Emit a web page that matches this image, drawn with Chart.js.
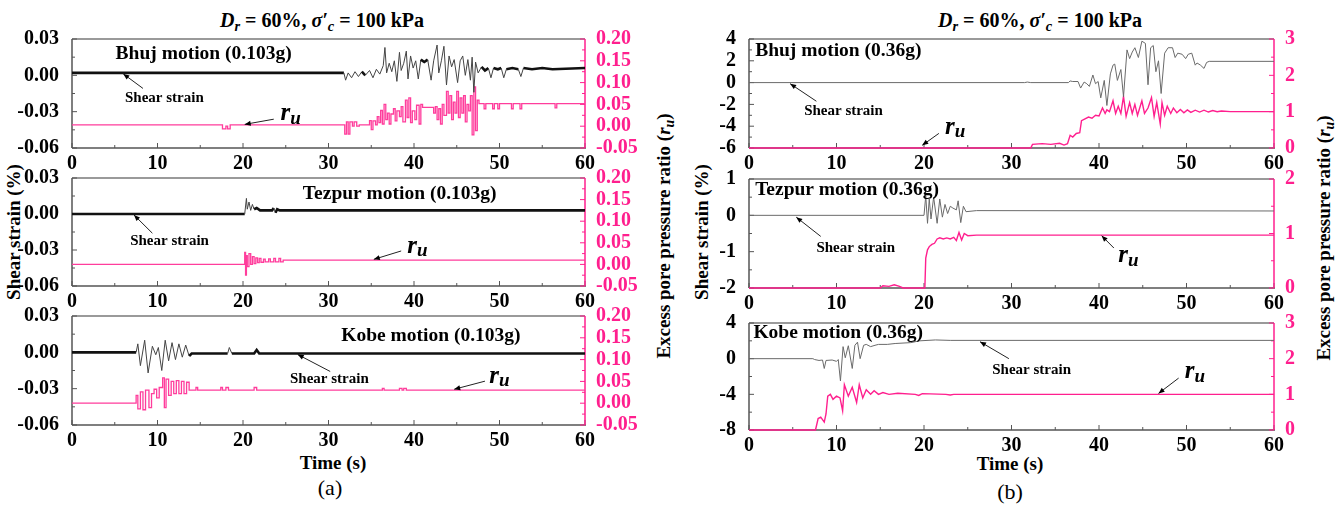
<!DOCTYPE html>
<html>
<head>
<meta charset="utf-8">
<script src="https://cdn.jsdelivr.net/npm/chart.js@4.4.1/dist/chart.umd.min.js"></script>
<style>
  body { margin: 0; background: #fff; }
  #wrap { position: relative; width: 1340px; height: 512px; overflow: hidden;
          font-family: "Liberation Serif", "Times New Roman", serif; }
  #wrap canvas { position: absolute; }
  .t { position: absolute; white-space: nowrap; font-weight: bold; color: #000;
       transform: translate(-50%, -50%); line-height: 1; }
  .rot { transform: translate(-50%, -50%) rotate(-90deg); }
  .t sub { font-size: 0.72em; vertical-align: -0.3em; line-height: 0; }
  .cap { font-weight: normal; font-size: 22px; }
</style>
</head>
<body>
<div id="wrap">
  <div class="t" style="left:322px; top:20px; font-size:20px;"><i>D<sub>r</sub></i> = 60%, <i>σ′<sub>c</sub></i> = 100 kPa</div>
  <div class="t" style="left:1040px; top:20px; font-size:20px;"><i>D<sub>r</sub></i> = 60%, <i>σ′<sub>c</sub></i> = 100 kPa</div>

  <div class="t rot" style="left:13px; top:232px; font-size:19px;">Shear strain (%)</div>
  <div class="t rot" style="left:701px; top:232px; font-size:19px;">Shear strain (%)</div>
  <div class="t rot" style="left:663px; top:236px; font-size:19px;">Excess pore pressure ratio (<i>r<sub>u</sub></i>)</div>
  <div class="t rot" style="left:1323px; top:238px; font-size:19px;">Excess pore pressure ratio (<i>r<sub>u</sub></i>)</div>

  <div class="t" style="left:333px; top:462px; font-size:19px;">Time (s)</div>
  <div class="t" style="left:1010px; top:463px; font-size:19px;">Time (s)</div>
  <div class="t cap" style="left:330px; top:488px;">(a)</div>
  <div class="t cap" style="left:1010px; top:492px;">(b)</div>
</div>
<script>
// ---- tick labels ----
var timeTicks = [0, 10, 20, 30, 40, 50, 60];
var strainTicksA = [-0.06, -0.03, 0, 0.03];
var ruTicksA = [-0.05, 0, 0.05, 0.10, 0.15, 0.20];
var strainTicksB1 = [-6, -4, -2, 0, 2, 4];
var ruTicksB1 = [0, 1, 2, 3];
var strainTicksB2 = [-2, -1, 0, 1];
var ruTicksB2 = [0, 1, 2];
var strainTicksB3 = [-8, -4, 0, 4];
var ruTicksB3 = [0, 1, 2, 3];

// ---- (a) 0.103g : [time (s), value] ----
var bhujA_strain = [[0,0.002],[31.8,0.002],[32.0,-0.004],[32.3,0.002],[32.7,-0.002],[33.1,0.003],[33.5,-0.001],[33.9,0.003],[34.3,0.000],[34.8,0.004],[35.2,-0.002],[35.6,0.005],[36.0,0.001],[36.4,0.008],[36.6,0.023],[36.8,0.002],[37.1,0.010],[37.4,0.003],[37.7,0.012],[38.0,-0.005],[38.3,0.019],[38.5,0.004],[38.8,0.010],[39.1,0.020],[39.3,-0.003],[39.6,0.016],[39.9,0.006],[40.2,0.012],[40.5,-0.003],[40.8,0.013],[41.2,0.011],[41.6,0.013],[42.0,-0.004],[42.3,0.012],[42.7,0.025],[42.9,0.002],[43.2,0.012],[43.5,0.024],[43.8,-0.008],[44.1,0.016],[44.4,0.007],[44.7,0.013],[45.1,-0.006],[45.4,0.012],[45.7,0.016],[46.0,0.000],[46.3,0.013],[46.6,-0.004],[46.8,0.015],[47.0,-0.014],[47.2,0.011],[47.5,0.002],[47.9,0.007],[48.3,0.004],[48.7,0.006],[49.0,-0.002],[49.3,0.006],[49.8,0.005],[50.2,0.006],[50.5,-0.002],[50.8,0.005],[51.5,0.006],[52.2,0.005],[52.5,-0.001],[52.8,0.006],[53.8,0.005],[55.0,0.006],[56.2,0.005],[60,0.006]];
var bhujA_ru = [[0,0.003],[17.6,-0.006],[18.0,0.000],[18.2,-0.006],[18.5,0.003],[31.9,-0.018],[32.1,0.010],[32.3,-0.018],[32.5,0.010],[32.8,0.000],[33.0,0.010],[33.3,0.000],[33.6,0.003],[34.8,0.013],[35.0,-0.008],[35.2,0.012],[35.5,0.003],[35.7,0.022],[35.9,0.008],[36.1,0.036],[36.3,0.005],[36.5,0.050],[36.7,0.015],[36.9,0.030],[37.1,0.005],[37.3,0.028],[37.6,0.040],[37.8,0.012],[38.0,0.035],[38.3,0.022],[38.5,0.045],[38.7,0.010],[39.0,0.060],[39.2,0.020],[39.4,0.065],[39.6,0.008],[39.8,0.035],[40.1,0.015],[40.3,0.048],[40.6,0.005],[40.8,0.050],[41.0,0.043],[42.3,0.030],[42.5,0.045],[42.7,0.015],[42.9,0.040],[43.1,0.005],[43.3,0.050],[43.5,0.025],[43.8,0.080],[44.0,0.030],[44.2,0.070],[44.4,0.015],[44.6,0.055],[44.8,0.030],[45.0,0.080],[45.2,0.020],[45.4,0.065],[45.6,0.030],[45.8,0.070],[46.0,0.010],[46.2,0.050],[46.4,0.035],[46.6,0.070],[46.8,-0.020],[47.0,0.090],[47.2,-0.010],[47.4,0.060],[47.6,0.052],[48.2,0.040],[48.4,0.052],[49.2,0.040],[49.4,0.052],[49.8,0.040],[50.0,0.052],[51.4,0.040],[51.6,0.052],[52.4,0.040],[52.6,0.052],[56.5,0.042],[56.7,0.052],[60,0.052]];

var tezpurA_strain = [[0,0.000],[20.2,0.000],[20.4,0.013],[20.5,0.004],[20.7,0.010],[20.9,0.003],[21.1,0.008],[21.3,0.004],[21.6,0.005],[22.0,0.003],[23.4,0.003],[23.6,0.005],[23.8,0.001],[24.0,0.004],[24.3,0.003],[60,0.003]];
var tezpurA_ru = [[0,0.000],[20.2,0.028],[20.3,-0.025],[20.4,0.020],[20.5,-0.005],[20.7,0.025],[20.9,0.000],[21.1,0.018],[21.3,0.002],[21.5,0.015],[21.7,0.004],[21.9,0.014],[22.1,0.005],[22.4,0.012],[22.6,0.006],[23.0,0.013],[23.2,0.006],[23.6,0.014],[23.8,0.006],[24.2,0.014],[24.4,0.006],[24.7,0.010],[60,0.010]];

var kobeA_strain = [[0,0.000],[7.5,0.000],[7.7,0.007],[8.0,-0.011],[8.5,0.010],[8.9,-0.017],[9.4,0.005],[9.8,-0.002],[10.1,0.004],[10.5,-0.015],[10.9,0.010],[11.3,-0.007],[11.7,0.008],[12.1,-0.006],[12.5,0.007],[12.9,-0.004],[13.3,0.006],[13.7,-0.003],[14.0,-0.001],[18.2,-0.001],[18.4,0.004],[18.7,-0.001],[21.3,-0.001],[21.6,0.002],[21.9,-0.001],[60,-0.001]];
var kobeA_ru = [[0,0.000],[7.5,0.018],[7.7,-0.013],[8.0,0.026],[8.3,-0.015],[8.6,0.030],[9.0,-0.010],[9.3,0.022],[9.6,0.032],[9.9,0.012],[10.2,0.036],[10.6,0.058],[10.8,-0.010],[11.0,0.055],[11.3,0.018],[11.6,0.050],[11.9,0.022],[12.2,0.052],[12.5,0.022],[12.8,0.050],[13.1,0.022],[13.4,0.048],[13.7,0.030],[14.5,0.036],[14.7,0.030],[17.4,0.036],[17.6,0.030],[18.0,0.036],[18.3,0.030],[21.3,0.036],[21.6,0.030],[36.3,0.034],[36.5,0.030],[38.3,0.034],[38.6,0.030],[38.8,0.034],[39.1,0.030],[60,0.030]];

// ---- (b) 0.36g ----
var bhujB_strain = [[0,0],[31.5,0],[31.8,0.05],[32.2,0],[36.5,0],[36.7,0.15],[37.0,0.1],[37.6,0.1],[37.9,-0.5],[38.3,0.05],[38.6,-0.1],[38.9,-0.35],[39.3,0.7],[39.6,-0.1],[39.9,0.1],[40.2,-1.4],[40.6,0.2],[40.9,-2.1],[41.3,0.8],[41.6,1.6],[41.8,1.7],[42.1,0.2],[42.5,1.2],[42.8,-1.3],[43.2,3.0],[43.5,2.2],[43.8,2.8],[44.1,3.2],[44.5,2.3],[44.9,3.8],[45.3,3.6],[45.6,-0.2],[45.9,3.2],[46.2,3.4],[46.5,1.0],[46.8,2.0],[47.1,-1.0],[47.5,2.7],[47.9,3.2],[48.4,3.2],[48.7,2.3],[49.0,2.7],[49.5,2.6],[49.9,2.2],[50.2,2.6],[50.6,2.7],[51.0,1.6],[51.2,1.8],[51.6,1.6],[52.0,1.3],[52.3,1.85],[52.6,1.95],[60,1.95]];
var bhujB_ru = [[0,0],[32.2,0],[32.4,0.1],[33.5,0.12],[34.5,0.1],[35.5,0.13],[36.0,0.08],[36.4,0.12],[36.7,0.35],[37.0,0.3],[37.4,0.4],[37.8,0.42],[38.0,0.75],[38.4,0.8],[38.8,0.85],[39.2,0.82],[39.6,0.9],[40.0,0.88],[40.4,1.1],[40.7,0.95],[40.9,1.05],[41.2,1.0],[41.6,1.3],[41.9,0.95],[42.2,1.15],[42.5,0.95],[42.8,1.42],[43.1,0.87],[43.5,1.25],[43.8,0.95],[44.1,1.2],[44.4,0.9],[44.9,1.3],[45.2,0.95],[45.6,1.1],[46.0,1.39],[46.3,0.87],[46.6,1.25],[47.0,0.66],[47.2,1.25],[47.5,0.9],[47.8,1.15],[48.2,0.95],[48.5,1.1],[48.9,0.97],[49.3,1.06],[49.7,0.97],[50.1,1.05],[50.5,0.98],[51.0,1.04],[51.5,0.99],[52.0,1.04],[52.5,0.99],[53.0,1.03],[53.5,1.0],[54,1.02],[55,1.0],[60,1.0]];

var tezpurB_strain = [[0,0],[20.0,0],[20.2,0.54],[20.4,-0.22],[20.6,0.45],[20.8,-0.1],[21.1,0.5],[21.5,-0.22],[21.8,0.45],[22.1,-0.05],[22.4,0.3],[22.7,0.05],[23.0,0.25],[23.3,0.2],[23.7,0.15],[23.9,0.4],[24.2,-0.2],[24.5,0.25],[24.8,0.1],[26,0.13],[60,0.12]];
var tezpurB_ru = [[0,0],[15.0,0],[15.3,0.04],[16,0.03],[16.6,0.06],[17.2,0.03],[17.6,0.0],[20.1,0],[20.2,0.55],[20.4,0.7],[20.6,0.76],[20.9,0.8],[21.2,0.82],[21.5,0.9],[21.8,0.92],[22.2,0.9],[22.6,0.92],[23.0,0.9],[23.4,0.93],[23.7,0.87],[24.0,1.02],[24.3,0.88],[24.6,1.0],[25.0,0.96],[26,0.97],[60,0.97]];

var kobeB_strain = [[0,0],[7.3,0],[7.5,-0.1],[8.0,-0.2],[8.4,-0.15],[8.6,-1.1],[8.8,-0.2],[9.5,-0.15],[10.0,-0.3],[10.2,-0.1],[10.45,-2.5],[10.75,1.35],[11.0,0.1],[11.35,1.45],[11.8,-1.1],[12.1,1.5],[12.4,1.85],[12.7,0.0],[13.1,1.5],[13.4,1.6],[13.9,1.35],[14.4,1.5],[14.8,1.6],[15.8,1.6],[16.7,1.7],[18.5,1.8],[19.5,2.0],[21.3,2.1],[23,2.05],[60,2.05]];
var kobeB_ru = [[0,0],[7.6,0],[7.9,0.32],[8.2,0.36],[8.6,0.22],[8.8,0.45],[9.0,0.95],[9.3,1.0],[9.6,0.86],[10.0,0.95],[10.4,0.9],[10.7,0.54],[10.9,1.27],[11.35,0.95],[11.8,1.2],[12.3,0.77],[12.6,1.27],[13.0,0.9],[13.4,1.13],[13.9,1.0],[14.3,1.1],[14.8,1.0],[15.3,1.05],[16,1.0],[17,1.03],[19,1.0],[19.4,0.97],[19.8,1.02],[22.5,1.0],[23,0.98],[23.4,1.0],[60,1.0]];

// ---- look ----
var FONT = '"Liberation Serif", "Times New Roman", serif';
var PINK = '#ff1f8e';
var PINK_A = '#ff3d9c';

// annotation spots in data units (time, left-axis value)
var notesA1 = [
  {kind: 'title', text: 'Bhuj motion (0.103g)', at: [5.1, 0.0174]},
  {kind: 'label', text: 'Shear strain', at: [6.2, -0.0188]},
  {kind: 'arrow', from: [8.3, -0.0108], to: [6.0, 0.0012]},
  {kind: 'ru', at: [24.4, -0.0319]},
  {kind: 'arrow', from: [23.6, -0.0362], to: [20.2, -0.0405]}
];
var notesA2 = [
  {kind: 'title', text: 'Tezpur motion (0.103g)', at: [27.0, 0.0165]},
  {kind: 'label', text: 'Shear strain', at: [6.8, -0.0227]},
  {kind: 'arrow', from: [9.4, -0.016], to: [7.25, -0.0008]},
  {kind: 'ru', at: [39.2, -0.0268]},
  {kind: 'arrow', from: [38.5, -0.0308], to: [35.3, -0.0378]}
];
var notesA3 = [
  {kind: 'title', text: 'Kobe motion (0.103g)', at: [31.5, 0.0139]},
  {kind: 'label', text: 'Shear strain', at: [25.5, -0.0222]},
  {kind: 'arrow', from: [30.2, -0.0158], to: [26.4, -0.0018]},
  {kind: 'ru', at: [48.8, -0.0198]},
  {kind: 'arrow', from: [48.3, -0.0238], to: [44.7, -0.0305]}
];
var notesB1 = [
  {kind: 'title', text: 'Bhuj motion (0.36g)', at: [0.7, 2.93]},
  {kind: 'label', text: 'Shear strain', at: [6.3, -2.6]},
  {kind: 'arrow', from: [7.7, -1.71], to: [4.7, -0.1]},
  {kind: 'ru', at: [22.4, -4.1]},
  {kind: 'arrow', from: [21.7, -4.66], to: [19.8, -5.75]}
];
var notesB2 = [
  {kind: 'title', text: 'Tezpur motion (0.36g)', at: [0.7, 0.71]},
  {kind: 'label', text: 'Shear strain', at: [7.7, -0.89]},
  {kind: 'arrow', from: [8.2, -0.58], to: [5.4, -0.05]},
  {kind: 'ru', at: [42.2, -1.12]},
  {kind: 'arrow', from: [41.7, -0.9], to: [40.3, -0.56]}
];
var notesB3 = [
  {kind: 'title', text: 'Kobe motion (0.36g)', at: [0.5, 2.9]},
  {kind: 'label', text: 'Shear strain', at: [27.8, -1.27]},
  {kind: 'arrow', from: [29.7, 0.0], to: [26.4, 1.9]},
  {kind: 'ru', at: [49.8, -1.45]},
  {kind: 'arrow', from: [49.1, -2.18], to: [46.8, -3.9]}
];

var fmt2 = function (v) { return Math.abs(v) < 1e-9 ? '0.00' : v.toFixed(2); };
var fmt0 = function (v) { return String(Math.round(v)); };

// plot boxes [left, top, right, bottom] in page pixels
var panels = [
  {box: [72, 36, 585, 148], strain: bhujA_strain, ru: bhujA_ru, yT: strainTicksA, y1T: ruTicksA, fmt: fmt2, typeA: true, notes: notesA1},
  {box: [72, 175, 585, 286], strain: tezpurA_strain, ru: tezpurA_ru, yT: strainTicksA, y1T: ruTicksA, fmt: fmt2, typeA: true, notes: notesA2},
  {box: [72, 313, 585, 425], strain: kobeA_strain, ru: kobeA_ru, yT: strainTicksA, y1T: ruTicksA, fmt: fmt2, typeA: true, notes: notesA3},
  {box: [749, 36, 1274, 148], strain: bhujB_strain, ru: bhujB_ru, yT: strainTicksB1, y1T: ruTicksB1, fmt: fmt0, typeA: false, notes: notesB1},
  {box: [749, 176, 1274, 288], strain: tezpurB_strain, ru: tezpurB_ru, yT: strainTicksB2, y1T: ruTicksB2, fmt: fmt0, typeA: false, notes: notesB2},
  {box: [749, 320, 1274, 430], strain: kobeB_strain, ru: kobeB_ru, yT: strainTicksB3, y1T: ruTicksB3, fmt: fmt0, typeA: false, notes: notesB3}
];

function seg(ctx, x1, y1, x2, y2) { ctx.beginPath(); ctx.moveTo(x1, y1); ctx.lineTo(x2, y2); ctx.stroke(); }
function mids(vals) { var m = []; for (var i = 0; i < vals.length - 1; i++) m.push((vals[i] + vals[i + 1]) / 2); return m; }

// box and inward ticks go under the curves, labels/arrows on top
var framePlugin = {
  id: 'frame',
  beforeDatasetsDraw: function (chart) {
    var ctx = chart.ctx, a = chart.chartArea;
    var sx = chart.scales.x, sy = chart.scales.y, sy1 = chart.scales.y1;
    ctx.save();
    ctx.strokeStyle = '#9a9a9a'; ctx.lineWidth = 2;
    seg(ctx, a.left, a.top, a.right, a.top);
    ctx.strokeStyle = '#555'; ctx.lineWidth = 1.5;
    seg(ctx, a.left, a.bottom, a.right + 1, a.bottom);
    seg(ctx, a.left, a.top, a.left, a.bottom);
    ctx.lineWidth = 1;
    var xv = sx.ticks.map(function (t) { return t.value; });
    xv.forEach(function (v) { var p = sx.getPixelForValue(v); seg(ctx, p, a.bottom, p, a.bottom - 5); });
    mids(xv).forEach(function (v) { var p = sx.getPixelForValue(v); seg(ctx, p, a.bottom, p, a.bottom - 3); });
    var yv = sy.ticks.map(function (t) { return t.value; });
    yv.forEach(function (v) { var p = sy.getPixelForValue(v); seg(ctx, a.left, p, a.left + 5, p); });
    mids(yv).forEach(function (v) { var p = sy.getPixelForValue(v); seg(ctx, a.left, p, a.left + 3, p); });
    ctx.strokeStyle = PINK; ctx.lineWidth = 1.5;
    seg(ctx, a.right, a.top, a.right, a.bottom);
    ctx.lineWidth = 1;
    var y1v = sy1.ticks.map(function (t) { return t.value; });
    y1v.forEach(function (v) { var p = sy1.getPixelForValue(v); seg(ctx, a.right, p, a.right - 5, p); });
    mids(y1v).forEach(function (v) { var p = sy1.getPixelForValue(v); seg(ctx, a.right, p, a.right - 3, p); });
    ctx.restore();
  },
  afterDatasetsDraw: function (chart) {
    var ctx = chart.ctx;
    var sx = chart.scales.x, sy = chart.scales.y;
    var notes = chart.options.plugins.frame.notes || [];
    ctx.save();
    ctx.fillStyle = '#000'; ctx.strokeStyle = '#222';
    ctx.textBaseline = 'middle'; ctx.textAlign = 'left';
    notes.forEach(function (n) {
      if (n.kind === 'arrow') {
        var x1 = sx.getPixelForValue(n.from[0]), y1 = sy.getPixelForValue(n.from[1]);
        var x2 = sx.getPixelForValue(n.to[0]), y2 = sy.getPixelForValue(n.to[1]);
        ctx.lineWidth = 1;
        seg(ctx, x1, y1, x2, y2);
        var ang = Math.atan2(y2 - y1, x2 - x1), L = 6, W = 2.5;
        ctx.beginPath();
        ctx.moveTo(x2, y2);
        ctx.lineTo(x2 - L * Math.cos(ang) + W * Math.sin(ang), y2 - L * Math.sin(ang) - W * Math.cos(ang));
        ctx.lineTo(x2 - L * Math.cos(ang) - W * Math.sin(ang), y2 - L * Math.sin(ang) + W * Math.cos(ang));
        ctx.closePath(); ctx.fill();
        return;
      }
      var px = sx.getPixelForValue(n.at[0]), py = sy.getPixelForValue(n.at[1]);
      if (n.kind === 'title') {
        ctx.font = 'bold 19.5px ' + FONT;
        ctx.fillText(n.text, px, py);
      } else if (n.kind === 'label') {
        ctx.font = 'bold 15px ' + FONT;
        ctx.fillText(n.text, px, py);
      } else if (n.kind === 'ru') {
        ctx.font = 'italic bold 25px ' + FONT;
        ctx.fillText('r', px, py);
        var w = ctx.measureText('r').width;
        ctx.font = 'italic bold 19px ' + FONT;
        ctx.fillText('u', px + w, py + 5);
      }
    });
    ctx.restore();
  }
};

var wrap = document.getElementById('wrap');
var PAD_L = 70, PAD_R = 70, PAD_T = 14, PAD_B = 28;
var tickFont = {family: FONT, size: 20, weight: 'bold'};

panels.forEach(function (p) {
  var L = p.box[0], T = p.box[1], R = p.box[2], B = p.box[3];
  var cv = document.createElement('canvas');
  cv.width = R - L + PAD_L + PAD_R;
  cv.height = B - T + PAD_T + PAD_B;
  cv.style.left = (L - PAD_L) + 'px';
  cv.style.top = (T - PAD_T) + 'px';
  wrap.appendChild(cv);

  var strainSet = {
    data: p.strain, yAxisID: 'y', borderColor: p.typeA ? '#1a1a1a' : '#6a6a6a',
    borderWidth: 1, pointRadius: 0, tension: 0, clip: 3
  };
  if (p.typeA) {
    // quiet stretches show as a dark noisy band, big swings as thin grey strokes
    strainSet.segment = {
      borderWidth: function (c) { return Math.abs(c.p1.parsed.y - c.p0.parsed.y) < 0.0035 ? 2.6 : 1; },
      borderColor: function (c) { return Math.abs(c.p1.parsed.y - c.p0.parsed.y) < 0.0035 ? '#111' : '#444'; }
    };
  }
  var ruSet = {
    data: p.ru, yAxisID: 'y1', borderColor: p.typeA ? PINK_A : PINK,
    borderWidth: p.typeA ? 1.3 : 1.4, pointRadius: 0, tension: 0, clip: 3,
    stepped: p.typeA ? true : false
  };

  function fixTicks(vals) {
    return function (s) { s.ticks = vals.map(function (v) { return {value: v}; }); };
  }

  new Chart(cv, {
    type: 'line',
    data: {datasets: [strainSet, ruSet]},
    options: {
      responsive: false,
      animation: false,
      devicePixelRatio: 1,
      events: [],
      layout: {padding: {top: PAD_T, left: 0, right: 0, bottom: 0}},
      plugins: {legend: {display: false}, tooltip: {enabled: false}, frame: {notes: p.notes}},
      scales: {
        x: {
          type: 'linear', min: 0, max: 60,
          afterBuildTicks: fixTicks(timeTicks),
          afterFit: function (s) { s.height = PAD_B; },
          grid: {display: false}, border: {display: false},
          ticks: {font: tickFont, color: '#000', padding: -4, maxRotation: 0, autoSkip: false}
        },
        y: {
          type: 'linear', position: 'left',
          min: p.yT[0], max: p.yT[p.yT.length - 1],
          afterBuildTicks: fixTicks(p.yT),
          afterFit: function (s) { s.width = PAD_L; },
          grid: {display: false}, border: {display: false},
          ticks: {font: tickFont, color: '#000', padding: 5, autoSkip: false,
                  callback: function (v) { return p.fmt(v); }}
        },
        y1: {
          type: 'linear', position: 'right',
          min: p.y1T[0], max: p.y1T[p.y1T.length - 1],
          afterBuildTicks: fixTicks(p.y1T),
          afterFit: function (s) { s.width = PAD_R; },
          grid: {display: false}, border: {display: false},
          ticks: {font: tickFont, color: PINK, padding: 3, autoSkip: false,
                  callback: function (v) { return p.fmt(v); }}
        }
      }
    },
    plugins: [framePlugin]
  });
});
</script>
</body>
</html>
